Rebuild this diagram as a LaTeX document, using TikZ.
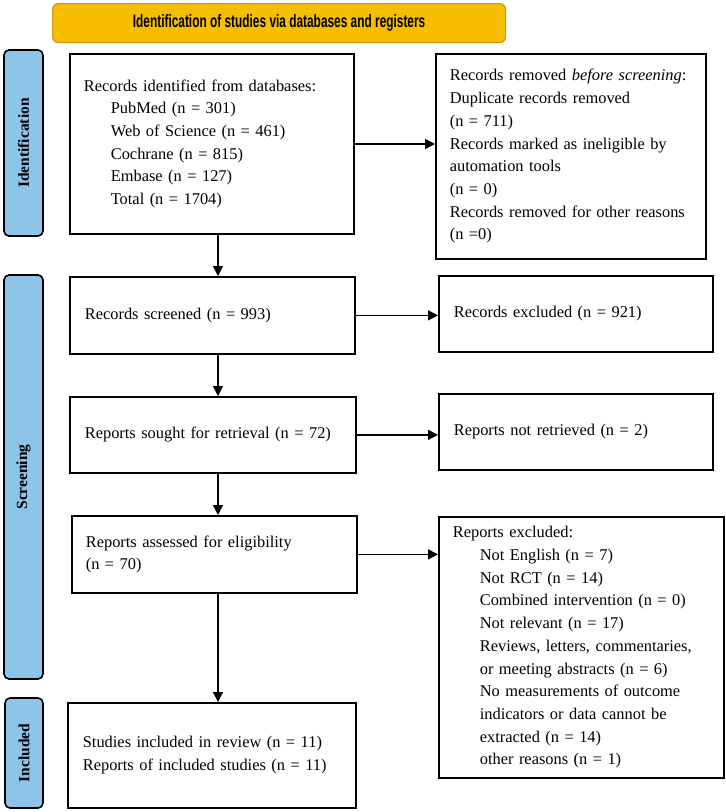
\documentclass[tikz,border=0pt]{standalone}
\usepackage{fontspec}
\usepackage{graphicx}
\setmainfont{Liberation Serif}
\newfontfamily\bannerfont{Liberation Sans}
\usetikzlibrary{arrows.meta,calc}
\definecolor{bannergold}{RGB}{247,190,0}
\definecolor{banneredge}{RGB}{205,150,20}
\definecolor{barblue}{RGB}{142,196,234}
\newcommand\ind{\hspace*{27pt}}
\begin{document}
\begin{tikzpicture}[x=1pt,y=-1pt,
  box/.style={draw, line width=1.7pt, anchor=north west, align=left,
    inner ysep=0pt, font=\fontsize{16.4}{22.7}\selectfont},
  sidebar/.style={draw, line width=1.6pt, fill=barblue, rounded corners=5pt,
    rotate=90, inner sep=0pt, font=\fontsize{15.5}{18}\selectfont\bfseries},
  arr/.style={line width=1.4pt, -{Triangle[length=10pt,width=10pt]}}]
\useasboundingbox (0,0) rectangle (726,812);

% banner
\node[draw=banneredge, fill=bannergold, rounded corners=6pt, line width=1.2pt,
  minimum width=453pt, minimum height=39pt, anchor=north west, inner sep=0pt]
  (banner) at (52,3)
  {\scalebox{0.66}[1]{\fontsize{18}{20}\bannerfont\bfseries Identification of studies via databases and registers}};

% side bars
\node[sidebar, minimum width=186pt, minimum height=39pt] (sbid) at (23.5,143) {Identification};
\node[sidebar, minimum width=404pt, minimum height=39pt] (sbscr) at (23.5,477) {Screening};
\node[sidebar, minimum width=110pt, minimum height=38pt] (sbinc) at (24,753) {Included};

% boxes
\node[box, text width=256pt, inner xsep=14pt, minimum height=180pt] (ident) at (69,53)
 {Records identified from databases:\\
  \ind PubMed (n = 301)\\
  \ind Web of Science (n = 461)\\
  \ind Cochrane (n = 815)\\
  \ind Embase (n = 127)\\
  \ind Total (n = 1704)};

\node[box, text width=242pt, inner xsep=14pt, minimum height=205pt] (removed) at (435,53)
 {\mbox{Records removed \textit{before screening}:}\\
  Duplicate records removed\\
  (n = 711)\\
  Records marked as ineligible by\\
  automation tools\\
  (n = 0)\\
  \mbox{Records removed for other reasons}\\
  (n =0)};

\node[box, text width=255pt, inner xsep=15pt, minimum height=77pt] (scr) at (69,276)
 {Records screened (n = 993)};

\node[box, text width=244pt, inner xsep=15pt, minimum height=76pt] (exc) at (438,275)
 {Records excluded (n = 921)};

\node[box, text width=256pt, inner xsep=15pt, minimum height=76pt] (sought) at (69,396)
 {Reports sought for retrieval (n = 72)};

\node[box, text width=244pt, inner xsep=15pt, minimum height=76pt] (notret) at (438,393)
 {Reports not retrieved (n = 2)};

\node[box, text width=257pt, inner xsep=14pt, minimum height=77pt] (assess) at (71,515)
 {Reports assessed for eligibility\\
  (n = 70)};

\node[box, text width=257pt, inner xsep=14pt, minimum height=261pt] (repexc) at (438,516)
 {Reports excluded:\\
  \ind Not English (n = 7)\\
  \ind Not RCT (n = 14)\\
  \ind Combined intervention (n = 0)\\
  \ind Not relevant (n = 17)\\
  \ind Reviews, letters, commentaries,\\
  \ind or meeting abstracts (n = 6)\\
  \ind No measurements of outcome\\
  \ind indicators or data cannot be\\
  \ind extracted (n = 14)\\
  \ind other reasons (n = 1)};

\node[box, text width=258pt, inner xsep=15pt, minimum height=105pt] (incl) at (67,702)
 {Studies included in review (n = 11)\\
  Reports of included studies (n = 11)};

% connectors
\coordinate (ax) at (218,0);
\coordinate (r1) at (0,144);
\draw[arr] (ident.south -| ax) -- (scr.north -| ax);
\draw[arr] (scr.south -| ax) -- (sought.north -| ax);
\draw[arr] (sought.south -| ax) -- (assess.north -| ax);
\draw[arr] (assess.south -| ax) -- (incl.north -| ax);
\draw[arr] (ident.east |- r1) -- (removed.west |- r1);
\draw[arr] (scr.east) -- (exc.west |- scr.east);
\draw[arr] (sought.east) -- (notret.west |- sought.east);
\draw[arr] (assess.east) -- (repexc.west |- assess.east);
\end{tikzpicture}
\end{document}
